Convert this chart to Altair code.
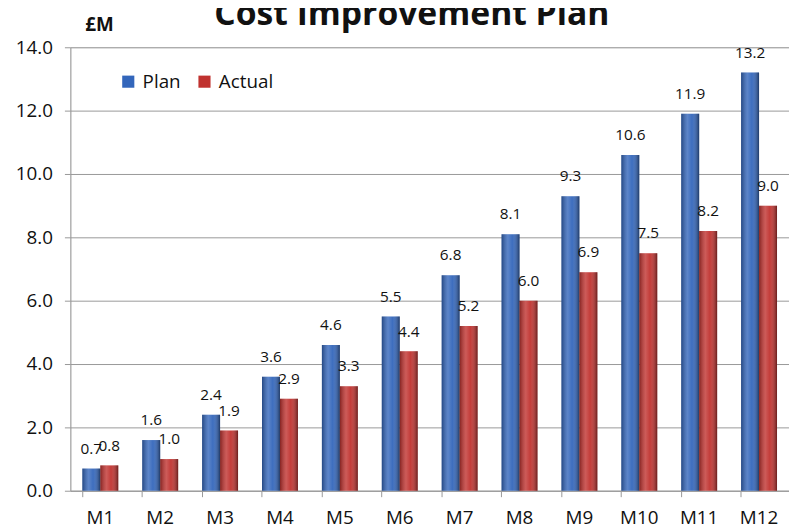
import altair as alt
import pandas as pd

months = ["M1", "M2", "M3", "M4", "M5", "M6", "M7", "M8", "M9", "M10", "M11", "M12"]
plan = [0.7, 1.6, 2.4, 3.6, 4.6, 5.5, 6.8, 8.1, 9.3, 10.6, 11.9, 13.2]
actual = [0.8, 1.0, 1.9, 2.9, 3.3, 4.4, 5.2, 6.0, 6.9, 7.5, 8.2, 9.0]
series = ["Plan", "Actual"]
colors = ["#3366bb", "#c0322f"]

rows = []
for m, p, a in zip(months, plan, actual):
    rows.append({"Month": m, "Series": "Plan", "Value": p})
    rows.append({"Month": m, "Series": "Actual", "Value": a})
df = pd.DataFrame(rows)

FONT = "Open Sans"

x = alt.X("Month:N", sort=months, title=None,
          scale=alt.Scale(paddingInner=0.4, paddingOuter=0.2),
          axis=alt.Axis(labelAngle=0, labelFontSize=19, labelColor="#111",
                        labelFont=FONT, tickColor="#999", tickSize=6,
                        domainColor="#999", labelPadding=12, bandPosition=0,
                        grid=False))
xo = alt.XOffset("Series:N", sort=series, scale=alt.Scale(domain=series))
y = alt.Y("Value:Q", scale=alt.Scale(domain=[0, 14]),
          axis=alt.Axis(values=[0, 2, 4, 6, 8, 10, 12, 14], format=".1f",
                        labelFontSize=19, labelColor="#111", labelFont=FONT,
                        tickColor="#999", tickSize=6, domainColor="#999",
                        gridColor="#999", labelPadding=12,
                        title="£M", titleAngle=0, titleX=29, titleY=-23,
                        titleAlign="center", titleBaseline="middle",
                        titleFontSize=19, titleFont=FONT, titleFontWeight="bold",
                        titleColor="#111"))

base = alt.Chart(df)

bars = base.mark_bar().encode(
    x=x, xOffset=xo, y=y,
    color=alt.Color("Series:N", sort=series,
                    scale=alt.Scale(domain=series, range=colors),
                    legend=alt.Legend(title=None, orient="none", legendX=49, legendY=25,
                                      direction="horizontal", symbolType="square",
                                      symbolSize=150, labelFontSize=19, labelFont=FONT,
                                      labelColor="#111", columnPadding=14,
                                      labelOffset=5, padding=0,
                                      symbolStrokeWidth=0))
)

shade = base.mark_bar(color={
    "gradient": "linear", "x1": 0, "x2": 1, "y1": 0, "y2": 0,
    "stops": [
        {"offset": 0, "color": "rgba(0,0,0,0.3)"},
        {"offset": 0.35, "color": "rgba(255,255,255,0.2)"},
        {"offset": 0.6, "color": "rgba(255,255,255,0.05)"},
        {"offset": 1, "color": "rgba(0,0,0,0.45)"},
    ]}).encode(x=x, xOffset=xo, y=y)

labels = base.mark_text(baseline="bottom", dy=-12, fontSize=15.5, font=FONT,
                        color="#111").encode(
    x=x, xOffset=xo, y=y, text=alt.Text("Value:Q", format=".1f"))

chart = alt.layer(bars, shade, labels).properties(
    width=726, height=448,
    autosize=alt.AutoSizeParams(type="none"),
    padding={"left": 63, "top": 37, "right": 0, "bottom": 38},
    title=alt.Title("Cost  Improvement Plan", fontSize=34, font=FONT,
                    fontWeight="bold", color="#111", anchor="middle",
                    dx=-18, dy=31, offset=14, frame="group"),
).configure_view(stroke=None).configure(background="white")

chart.save("out.html", embed_options={"renderer": "svg", "actions": False})
